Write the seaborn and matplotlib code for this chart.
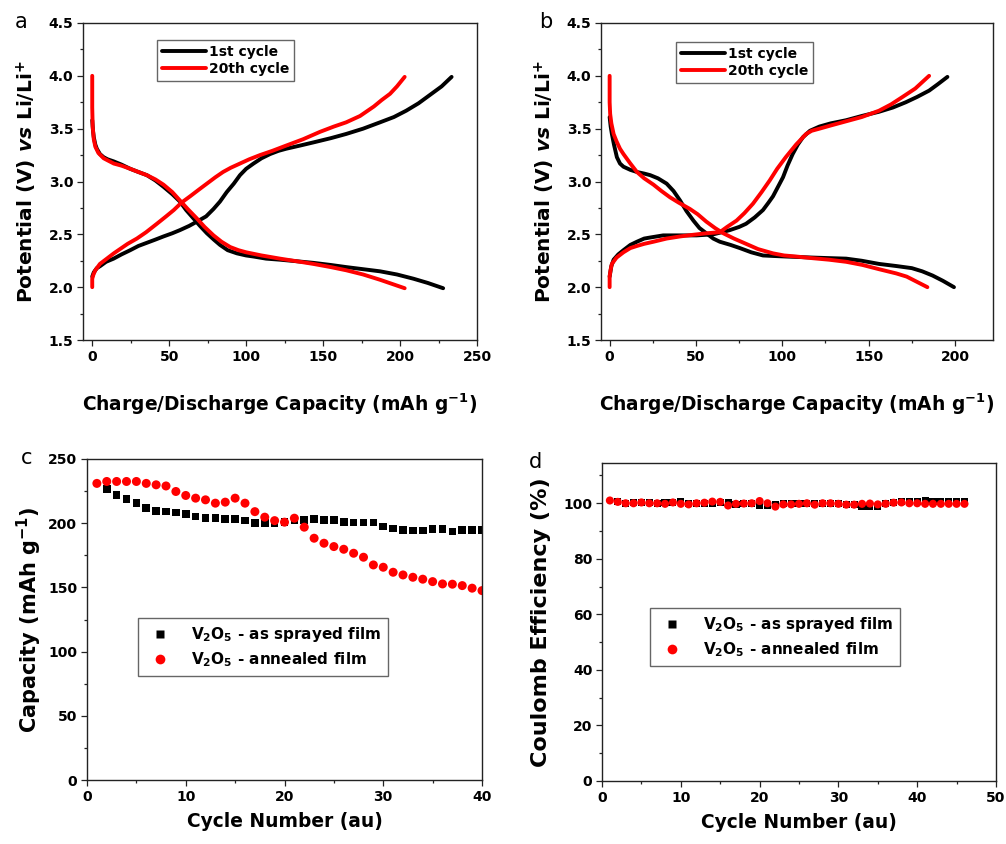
import matplotlib
matplotlib.use("Agg")
import matplotlib.pyplot as plt
from matplotlib.lines import Line2D
from matplotlib.ticker import MultipleLocator
import seaborn as sns

# ---------------- data ----------------
# panel a: charge/discharge curves (capacity mAh/g, potential V)
a1_chg_x = [0, 1, 3, 5.2, 9, 13.9, 19, 24.7, 30, 35.5, 41, 46.3, 52, 57, 63, 68, 74, 78.8, 83, 87.4, 92, 96, 100, 104.8, 110, 115.6, 121, 126, 135, 143.7, 155, 165, 176, 187, 196, 204, 212, 219.5, 227, 233.5]
a1_chg_y = [2.10, 2.14, 2.18, 2.20, 2.24, 2.27, 2.31, 2.35, 2.39, 2.42, 2.45, 2.48, 2.51, 2.54, 2.58, 2.62, 2.67, 2.74, 2.81, 2.90, 2.98, 3.06, 3.12, 3.17, 3.22, 3.26, 3.29, 3.31, 3.34, 3.37, 3.41, 3.45, 3.50, 3.56, 3.61, 3.67, 3.74, 3.82, 3.90, 3.99]
a20_chg_x = [0, 0, 0.8, 2, 5, 9.5, 14, 18, 23, 29, 35, 42, 48, 53, 58, 63.6, 69, 74.5, 80, 85, 90, 96, 102, 109, 117, 126, 137, 148, 157, 165, 174, 183, 188, 193.5, 198, 203]
a20_chg_y = [2.00, 2.08, 2.12, 2.16, 2.22, 2.27, 2.32, 2.36, 2.41, 2.46, 2.52, 2.60, 2.67, 2.73, 2.80, 2.86, 2.92, 2.98, 3.04, 3.09, 3.13, 3.17, 3.21, 3.25, 3.29, 3.34, 3.40, 3.47, 3.52, 3.56, 3.62, 3.71, 3.77, 3.83, 3.90, 3.99]
a1_dis_x = [0, 0.5, 1, 2, 3, 5, 7.4, 10, 14, 19, 24.7, 30, 35.5, 41, 46.3, 52, 57, 61, 65.8, 70, 74.5, 79, 83, 88, 94, 100, 104.8, 113, 122, 133, 143.7, 155, 165, 176, 187, 198, 208.7, 218, 228]
a1_dis_y = [3.58, 3.48, 3.42, 3.35, 3.31, 3.26, 3.23, 3.21, 3.19, 3.16, 3.12, 3.09, 3.06, 3.01, 2.95, 2.88, 2.81, 2.73, 2.65, 2.58, 2.51, 2.45, 2.40, 2.35, 2.32, 2.30, 2.29, 2.27, 2.26, 2.245, 2.23, 2.21, 2.19, 2.17, 2.15, 2.12, 2.08, 2.04, 1.99]
a20_dis_x = [0, 0, 0.3, 1, 2, 4, 7.4, 10, 14, 19, 24.7, 30, 35.5, 41, 46.3, 52, 57, 62, 68, 73, 78.8, 84, 89.6, 95, 100, 110, 122, 133, 143.7, 155, 165, 176, 187, 195, 203]
a20_dis_y = [4.00, 3.70, 3.52, 3.40, 3.33, 3.27, 3.22, 3.20, 3.17, 3.15, 3.12, 3.09, 3.06, 3.02, 2.97, 2.90, 2.82, 2.74, 2.65, 2.57, 2.49, 2.43, 2.38, 2.35, 2.33, 2.30, 2.27, 2.245, 2.22, 2.19, 2.16, 2.12, 2.07, 2.03, 1.99]

# panel b
b1_chg_x = [0, 0.5, 1, 2.3, 5, 8, 12, 15.8, 20, 23.5, 31, 40.8, 50.4, 60, 65, 69.6, 75, 79, 84, 88.8, 92, 94.6, 97.5, 100.4, 103, 106, 109, 112, 116, 121.5, 128, 137, 146, 156, 164, 171.5, 178, 185, 190, 195.6]
b1_chg_y = [2.10, 2.15, 2.20, 2.26, 2.31, 2.35, 2.40, 2.43, 2.46, 2.47, 2.49, 2.49, 2.49, 2.50, 2.52, 2.54, 2.57, 2.60, 2.66, 2.73, 2.80, 2.86, 2.95, 3.04, 3.15, 3.26, 3.35, 3.42, 3.48, 3.52, 3.55, 3.58, 3.62, 3.66, 3.70, 3.75, 3.80, 3.86, 3.92, 3.99]
b20_chg_x = [0, 0, 0.5, 1.3, 4, 8, 12, 15.8, 20, 25.4, 33, 40.8, 48, 56, 63.8, 68, 73.5, 78, 83, 88, 92.7, 97, 102, 108, 113.8, 117, 121.5, 128, 137, 146, 156, 163, 169.6, 177, 185]
b20_chg_y = [2.00, 2.10, 2.16, 2.22, 2.28, 2.33, 2.37, 2.39, 2.41, 2.43, 2.46, 2.48, 2.495, 2.51, 2.52, 2.57, 2.63, 2.70, 2.79, 2.90, 3.01, 3.12, 3.23, 3.35, 3.45, 3.48, 3.50, 3.53, 3.57, 3.61, 3.67, 3.73, 3.80, 3.88, 4.00]
b1_dis_x = [0, 0.6, 1.3, 2.5, 4.2, 6, 8, 12, 15.8, 20, 23.5, 28, 33, 37, 40.8, 44.5, 48.5, 52, 56, 60, 63.8, 70, 75.4, 82, 88.8, 95, 102, 110, 117.7, 127, 137, 146, 156, 166, 175, 181, 187, 193, 199.4]
b1_dis_y = [3.61, 3.52, 3.45, 3.35, 3.23, 3.17, 3.14, 3.11, 3.09, 3.075, 3.06, 3.03, 2.98, 2.91, 2.82, 2.72, 2.63, 2.56, 2.51, 2.46, 2.43, 2.40, 2.37, 2.33, 2.30, 2.295, 2.29, 2.285, 2.28, 2.275, 2.27, 2.25, 2.22, 2.20, 2.18, 2.15, 2.11, 2.06, 2.00]
b20_dis_x = [0, 0, 0.3, 1, 2.3, 4, 6, 8, 12, 15.8, 20, 25.4, 30, 35, 40, 46.5, 51, 56, 61, 65.8, 72, 79, 86, 94.6, 101, 108, 117, 127, 137, 146.5, 156, 166, 172, 178, 184]
b20_dis_y = [4.00, 3.75, 3.64, 3.55, 3.45, 3.38, 3.31, 3.26, 3.17, 3.09, 3.03, 2.97, 2.91, 2.85, 2.80, 2.74, 2.69, 2.62, 2.56, 2.51, 2.46, 2.41, 2.36, 2.32, 2.30, 2.29, 2.275, 2.26, 2.24, 2.21, 2.17, 2.13, 2.10, 2.05, 2.00]

# panel c: capacity vs cycle
c_sq_cycle = list(range(2, 41))
c_sq_cap = [226.8, 222, 218.7, 215.6, 211.7, 209.6, 209, 208.3, 207, 205.2, 203.9, 203.9, 203.4, 203.4, 202, 200, 200, 200, 201, 202.6, 202.6, 203.4, 202.6, 202.6, 201, 200.5, 200.5, 200.5, 197.4, 196, 194.8, 194.3, 194.3, 195.3, 195.3, 193.5, 194.8, 194.8, 194.8]
c_ci_cycle = list(range(1, 41))
c_ci_cap = [231, 232.5, 232.5, 232.5, 232.5, 231, 229.9, 229, 224.7, 221.6, 219.5, 218.2, 215.6, 216.4, 219.5, 215.6, 209, 204.7, 202, 200.8, 203.9, 196.9, 188.3, 184.4, 181.8, 179.7, 176.6, 173.5, 167.5, 165.7, 161.8, 159.7, 157.9, 156.4, 154.5, 152.7, 152.5, 151.4, 149.4, 147.5]

# panel d: coulomb efficiency vs cycle
d_sq_cycle = list(range(2, 47))
d_sq_eff = [100.5, 100, 100.2, 100.3, 100.2, 100, 100.3, 100.2, 100.5, 100, 100, 100, 100, 100.2, 100.3, 99.6, 99.8, 99.8, 99.3, 99.3, 99.6, 99.8, 100, 100, 100, 99.8, 100, 100, 99.8, 99.6, 99.6, 99, 99, 99, 99.8, 100.2, 100.8, 100.8, 100.8, 101, 100.8, 100.8, 100.8, 100.8, 100.8]
d_ci_cycle = list(range(1, 47))
d_ci_eff = [101, 100.5, 100, 100, 100.3, 100, 100, 99.8, 100.3, 99.8, 99.6, 100, 100.2, 100.6, 100.5, 99.2, 99.8, 99.9, 100, 100.8, 100, 98.8, 99.6, 99.6, 99.8, 100, 99.5, 100, 100, 99.8, 99.5, 99.5, 99.8, 99.9, 99.6, 99.8, 100.2, 100.3, 100, 100, 99.8, 99.8, 99.8, 99.8, 99.8, 99.8]

cycle_labels = ["1st cycle", "20th cycle"]
film_labels = [r"$\mathrm{V_2O_5}$ - as sprayed film", r"$\mathrm{V_2O_5}$ - annealed film"]

# ---------------- style ----------------
sns.set_style("ticks")
plt.rcParams["font.family"] = ["DejaVu Sans"]
plt.rcParams["font.weight"] = "bold"
plt.rcParams["text.color"] = "black"
plt.rcParams["axes.labelcolor"] = "black"
plt.rcParams["mathtext.fontset"] = "custom"
plt.rcParams["mathtext.rm"] = "DejaVu Sans:bold"
plt.rcParams["mathtext.it"] = "DejaVu Sans:italic:bold"
plt.rcParams["mathtext.bf"] = "DejaVu Sans:bold"

RED = "#ff0000"
BLK = "#000000"
W, H = 1006, 844
fig = plt.figure(figsize=(W / 100, H / 100), dpi=100)


def axbox(l, r, t, b):
    return fig.add_axes([l / W, 1 - b / H, (r - l) / W, (b - t) / H])


def style_axes(ax):
    for s in ax.spines.values():
        s.set_visible(True)
        s.set_color("#222222")
        s.set_linewidth(1.0)
    ax.tick_params(which="both", direction="out", top=False, right=False,
                   bottom=True, left=True,
                   colors="#222222", labelcolor="black", labelsize=10, width=0.9)
    ax.tick_params(which="major", length=4, pad=3)
    ax.tick_params(which="minor", length=2.5)
    for lab in ax.get_xticklabels() + ax.get_yticklabels():
        lab.set_fontweight("bold")


ax_a = axbox(83, 477, 23, 340)
ax_b = axbox(601, 993, 23, 340)
ax_c = axbox(87, 482, 459, 780)
ax_d = axbox(602, 996, 463, 781)

curves = {
    ax_a: [(a1_chg_x, a1_chg_y, BLK), (a1_dis_x, a1_dis_y, BLK),
           (a20_chg_x, a20_chg_y, RED), (a20_dis_x, a20_dis_y, RED)],
    ax_b: [(b1_chg_x, b1_chg_y, BLK), (b1_dis_x, b1_dis_y, BLK),
           (b20_chg_x, b20_chg_y, RED), (b20_dis_x, b20_dis_y, RED)],
}
for ax, lst in curves.items():
    for xs, ys, col in lst:
        sns.lineplot(x=xs, y=ys, sort=False, estimator=None, color=col,
                     lw=2.8, ax=ax, legend=False)
    ax.set_ylim(1.5, 4.5)
    ax.yaxis.set_minor_locator(MultipleLocator(0.25))
    ax.xaxis.set_minor_locator(MultipleLocator(25))
    ax.set_yticks([1.5, 2.0, 2.5, 3.0, 3.5, 4.0, 4.5])
    ax.set_yticklabels(["1.5", "2.0", "2.5", "3.0", "3.5", "4.0", "4.5"])
    ax.set_xlabel(r"Charge/Discharge Capacity (mAh g$^{-1}$)", fontsize=13.4,
                  fontweight="bold", labelpad=20)
    ax.set_ylabel(r"Potential (V) $vs$ Li/Li$^{+}$", fontsize=14.5,
                  fontweight="bold", labelpad=7)
    handles = [Line2D([], [], color=BLK, lw=2.8), Line2D([], [], color=RED, lw=2.8)]
    ax.legend(handles, cycle_labels, loc="upper left",
              prop={"weight": "bold", "size": 10}, frameon=True, fancybox=False,
              edgecolor="#666666", framealpha=1, handlelength=3.2,
              handletextpad=0.2, borderpad=0.35, labelspacing=0.25,
              borderaxespad=0)

ax_a.set_xlim(-6, 250)
ax_a.set_xticks([0, 50, 100, 150, 200, 250])
ax_b.set_xlim(-5, 222)
ax_b.set_xticks([0, 50, 100, 150, 200])
ax_a.get_legend().set_bbox_to_anchor((157 / W, 1 - 40 / H), transform=fig.transFigure)
ax_b.get_legend().set_bbox_to_anchor((676 / W, 1 - 42 / H), transform=fig.transFigure)
for ax in (ax_a, ax_b):
    style_axes(ax)

# panel c
sns.scatterplot(x=c_sq_cycle, y=c_sq_cap, marker="s", s=30, color=BLK,
                edgecolor="none", linewidth=0, ax=ax_c, legend=False)
sns.scatterplot(x=c_ci_cycle, y=c_ci_cap, marker="o", s=42, color=RED,
                edgecolor="none", linewidth=0, ax=ax_c, legend=False)
ax_c.set_xlim(0, 40)
ax_c.set_ylim(0, 250)
ax_c.xaxis.set_major_locator(MultipleLocator(10))
ax_c.xaxis.set_minor_locator(MultipleLocator(5))
ax_c.yaxis.set_major_locator(MultipleLocator(50))
ax_c.yaxis.set_minor_locator(MultipleLocator(25))
ax_c.set_xlabel("Cycle Number (au)", fontsize=13.4, fontweight="bold", labelpad=6)
ax_c.set_ylabel(r"Capacity (mAh g$^{-1}$)", fontsize=15, fontweight="bold", labelpad=3)
style_axes(ax_c)

# panel d
sns.scatterplot(x=d_sq_cycle, y=d_sq_eff, marker="s", s=26, color=BLK,
                edgecolor="none", linewidth=0, ax=ax_d, legend=False)
sns.scatterplot(x=d_ci_cycle, y=d_ci_eff, marker="o", s=34, color=RED,
                edgecolor="none", linewidth=0, ax=ax_d, legend=False)
ax_d.set_xlim(0, 50)
ax_d.set_ylim(0, 114.5)
ax_d.xaxis.set_major_locator(MultipleLocator(10))
ax_d.xaxis.set_minor_locator(MultipleLocator(5))
ax_d.yaxis.set_major_locator(MultipleLocator(20))
ax_d.yaxis.set_minor_locator(MultipleLocator(10))
ax_d.set_xlabel("Cycle Number (au)", fontsize=13.4, fontweight="bold", labelpad=6)
ax_d.set_ylabel("Coulomb Efficiency (%)", fontsize=16, fontweight="bold", labelpad=9)
style_axes(ax_d)

for ax, (lx, ty) in ((ax_c, (138, 618)), (ax_d, (650, 608))):
    handles = [Line2D([], [], ls="none", marker="s", ms=6, color=BLK, mec="none"),
               Line2D([], [], ls="none", marker="o", ms=7, color=RED, mec="none")]
    ax.legend(handles, film_labels, loc="upper left",
              bbox_to_anchor=(lx / W, 1 - ty / H), bbox_transform=fig.transFigure,
              prop={"weight": "bold", "size": 11}, frameon=True, fancybox=False,
              edgecolor="#666666", framealpha=1, handlelength=2.0,
              handletextpad=1.0, borderpad=0.45, labelspacing=0.4,
              borderaxespad=0)

# panel letters
for txt, x, y in (("a", 21, 22), ("b", 546, 22), ("c", 27, 458), ("d", 536, 462)):
    fig.text(x / W, 1 - y / H, txt, fontsize=15, fontweight="normal",
             ha="center", va="center")

fig.savefig("out.png", dpi=100)
